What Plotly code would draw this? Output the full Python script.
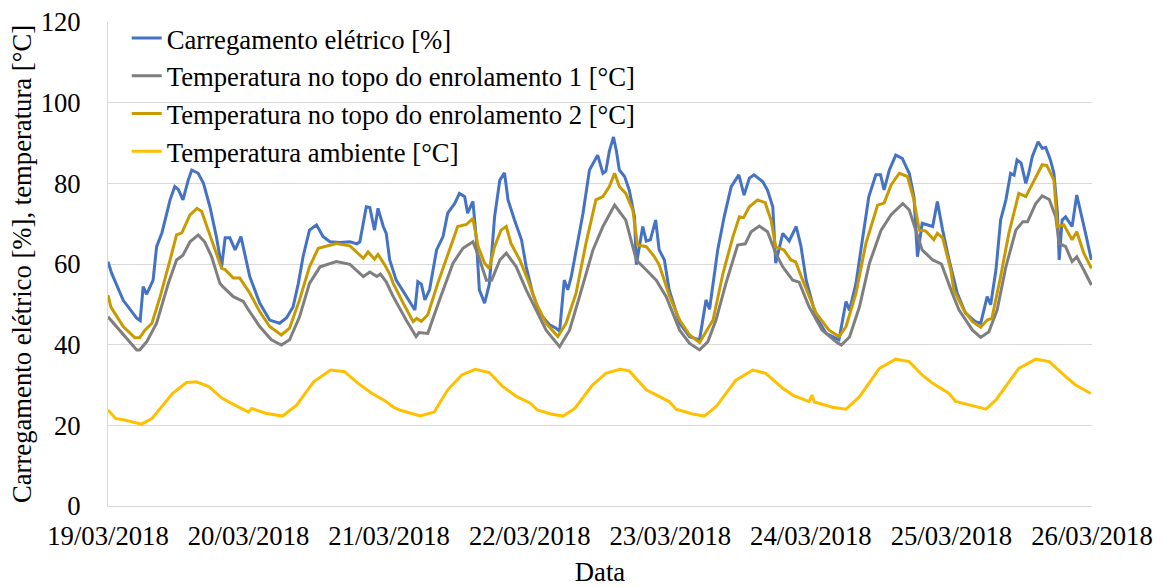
import pandas as pd
import plotly.graph_objects as go

START = pd.Timestamp("2018-03-19")

# Carregamento elétrico [%]  (hours since 19/03/2018 00:00, value)
load_h = [0.0, 0.6, 2.6, 4.9, 5.5, 6.0, 6.6, 7.7, 8.3, 9.2, 10.6, 11.4, 12.0, 12.8, 13.7, 14.3, 15.4, 16.3,
          17.4, 18.5, 19.4, 20.0, 20.8, 21.7, 22.7, 23.4, 24.2, 25.9, 27.6, 29.3, 30.5, 31.6, 32.5, 33.3,
          34.4, 35.6, 36.7, 37.9, 39.6, 41.3, 42.5, 43.0, 44.1, 44.7, 45.5, 46.1, 47.0, 47.5, 48.1, 49.2,
          50.9, 52.4, 52.9, 53.5, 54.1, 54.9, 56.1, 57.2, 58.0, 59.2, 60.0, 60.9, 61.4, 62.3, 62.9, 63.4,
          64.3, 65.1, 66.0, 66.9, 67.7, 68.3, 69.4, 70.6, 71.4, 72.5, 73.7, 75.4, 76.5, 77.1, 77.9, 78.5,
          79.1, 79.9, 81.1, 82.2, 82.8, 83.6, 84.5, 85.0, 85.6, 86.3, 86.8, 87.3, 88.2, 89.0, 89.9, 90.2,
          91.3, 91.9, 92.6, 93.5, 94.1, 95.0, 95.8, 97.6, 99.3, 101.0, 102.1, 102.7, 104.1, 105.2, 106.4,
          107.7, 108.6, 109.5, 110.3, 111.8, 112.6, 113.5, 114.0, 115.2, 116.3, 117.5, 118.3, 119.2, 120.9,
          122.6, 124.8, 126.0, 126.6, 127.7, 128.8, 129.9, 131.1, 131.9, 132.5, 133.4, 134.5, 135.6, 136.8,
          137.6, 138.2, 139.0, 140.8, 141.6, 142.5, 143.6, 145.0, 146.4, 148.1, 149.0, 150.1, 150.7, 151.6,
          152.4, 153.3, 154.1, 154.7, 155.2, 155.9, 156.7, 157.2, 157.8, 158.8, 159.5, 160.1, 160.9, 161.5,
          162.1, 162.4, 162.9, 163.5, 164.6, 165.4, 166.1, 166.9, 167.9]
load_v = [60.6, 57.8, 51.0, 46.6, 46.0, 54.4, 52.5, 56.0, 64.3, 67.7, 75.9, 79.2, 78.5, 75.9, 80.8, 83.3, 82.5, 80.0,
          74.2, 66.8, 59.3, 66.5, 66.5, 63.5, 66.8, 61.8, 56.9, 50.3, 46.1, 45.3, 46.7, 49.4, 55.2, 61.8,
          68.4, 69.7, 66.8, 65.5, 65.3, 65.5, 65.0, 65.5, 74.2, 74.0, 68.4, 73.8, 69.3, 67.6, 61.0, 56.0,
          51.9, 48.6, 55.6, 55.0, 51.1, 53.6, 63.5, 66.8, 72.6, 75.0, 77.5, 76.7, 72.6, 75.5, 66.0, 53.6,
          50.3, 55.0, 71.7, 80.8, 82.6, 75.9, 70.9, 66.0, 59.3, 52.7, 47.8, 44.9, 44.1, 43.3, 56.0, 53.6,
          56.9, 63.5, 72.6, 83.3, 85.0, 87.0, 82.5, 83.0, 88.0, 91.5, 88.0, 83.3, 81.7, 78.3, 71.7, 59.8,
          69.3, 65.7, 66.0, 70.9, 63.5, 61.0, 53.6, 45.3, 42.0, 41.2, 51.1, 48.8, 63.5, 71.7, 79.2,
          82.1, 77.1, 81.3, 82.1, 80.4, 78.3, 74.2, 60.2, 67.6, 65.7, 69.3, 64.5, 56.0, 46.9,
          42.8, 41.2, 50.7, 48.5, 55.2, 66.0, 76.7, 82.1, 82.1, 78.4, 83.3, 87.0, 86.2, 82.5,
          76.7, 61.8, 70.1, 69.3, 75.5, 68.4, 61.0, 52.7, 47.8, 45.7, 45.3, 51.9, 49.9, 58.5,
          70.9, 75.9, 82.5, 82.0, 85.8, 85.0, 80.0, 82.5, 86.6, 90.3, 88.7, 88.9, 85.8, 82.5,
          72.6, 61.0, 70.9, 71.7, 69.3, 77.1, 73.0, 67.6, 61.0]

# Temperatura no topo do enrolamento 1 [°C]
t1_h = [0.0, 2.6, 4.9, 5.4, 6.6, 8.3, 10.3, 11.7, 12.8, 14.0, 15.4, 16.5, 17.7, 19.1, 19.6, 21.4, 23.1, 24.0,
        25.9, 27.9, 29.6, 31.0, 32.7, 34.4, 36.2, 39.0, 41.3, 43.6, 44.7, 45.9, 46.5, 47.5, 48.7, 50.9,
        52.6, 53.1, 54.6, 56.6, 58.9, 60.6, 62.3, 63.2, 64.6, 65.5, 66.9, 68.0, 69.7, 71.4, 73.1, 74.8,
        77.1, 78.8, 80.5, 82.8, 84.5, 86.5, 88.4, 90.2, 91.9, 93.6, 95.3, 97.6, 99.3, 101.0, 102.4, 103.8,
        105.5, 107.5, 108.8, 109.8, 111.2, 112.6, 114.0, 115.2, 116.9, 118.0, 119.7, 121.9, 124.3, 125.2,
        126.6, 128.3, 130.0, 132.0, 133.7, 135.7, 136.8, 137.9, 139.0, 140.8, 142.3, 144.1, 145.3, 147.6,
        149.0, 150.4, 151.8, 153.3, 155.0, 156.2, 157.0, 158.4, 159.5, 160.7, 161.8, 162.4, 163.5, 164.6,
        165.4, 166.6, 167.9]
t1_v = [46.9, 42.4, 38.7, 38.7, 40.7, 45.3, 55.2, 61.0, 62.2, 65.5, 67.2, 65.5, 61.8, 55.2, 54.4, 51.9, 50.7, 48.6,
        44.5, 41.2, 39.9, 41.2, 46.9, 55.2, 59.3, 60.6, 59.9, 56.9, 58.0, 56.9, 57.5, 55.6, 51.9, 46.1,
        42.0, 43.0, 42.8, 51.1, 60.2, 63.9, 65.5, 62.2, 56.0, 56.0, 61.0, 62.7, 59.3, 53.6, 48.6, 43.6,
        39.5, 43.6, 51.9, 63.5, 69.3, 74.6, 70.9, 61.0, 58.5, 56.0, 51.9, 43.6, 40.3, 38.7, 40.7, 46.1,
        55.2, 64.7, 65.0, 68.0, 69.4, 68.0, 62.7, 59.3, 56.0, 55.5, 49.4, 43.6, 40.7, 39.9,
        41.9, 49.4, 60.2, 68.4, 72.2, 75.0, 73.4, 68.4, 63.5, 61.0, 60.0, 52.9, 48.6, 43.6,
        41.8, 43.2, 48.6, 59.3, 68.4, 70.5, 70.5, 75.0, 76.9, 76.0, 71.7, 65.1, 64.3, 60.6,
        61.8, 58.5, 54.8]

# Temperatura no topo do enrolamento 2 [°C]
t2_h = [0.0, 0.5, 2.6, 4.6, 5.4, 6.3, 7.5, 8.9, 10.6, 11.7, 12.6, 14.0, 15.2, 16.0, 17.1, 18.3, 19.4, 20.0, 21.4,
        22.5, 23.1, 24.2, 25.9, 27.6, 29.6, 31.0, 32.7, 34.4, 35.9, 39.0, 41.3, 43.6, 44.4, 45.5, 46.1, 47.2,
        48.1, 48.7, 50.4, 52.1, 52.7, 53.5, 54.6, 56.3, 58.3, 59.7, 61.2, 62.3, 63.2, 64.3, 65.1, 66.0,
        67.1, 68.0, 68.8, 70.3, 71.7, 73.1, 74.8, 76.8, 78.2, 79.9, 81.6, 83.3, 84.5, 85.6, 86.5, 87.3,
        88.4, 89.6, 90.4, 91.9, 93.3, 94.1, 95.8, 97.6, 99.3, 101.0, 102.1, 103.3, 105.0, 106.7, 107.8,
        108.5, 109.5, 110.9, 112.2, 113.2, 114.0, 115.4, 116.6, 117.4, 118.6, 120.9, 123.1, 124.8, 126.0,
        127.7, 129.4, 131.4, 132.5, 133.7, 135.1, 136.5, 137.6, 138.5, 139.6, 141.0, 141.6, 142.5, 143.9,
        144.4, 146.1, 147.6, 149.0, 150.1, 150.9, 152.4, 153.8, 155.5, 156.7, 158.4, 159.5, 160.3, 161.5,
        162.1, 163.2, 164.6, 165.4, 166.6, 167.9]
t2_v = [52.3, 49.3, 44.5, 41.7, 41.7, 43.6, 45.3, 51.9, 61.0, 67.2, 67.7, 72.2, 73.8, 73.0, 68.4, 63.5, 58.9, 58.6, 56.5,
        56.5, 55.3, 52.8, 48.2, 44.5, 42.4, 44.1, 51.1, 59.3, 63.9, 65.1, 64.5, 61.4, 63.0, 61.2, 62.4, 59.9,
        57.5, 55.2, 50.3, 45.7, 46.5, 45.8, 47.4, 55.2, 63.5, 69.3, 69.8, 71.3, 64.3, 60.2, 58.9, 64.3,
        68.4, 69.3, 65.1, 61.0, 56.0, 50.3, 45.3, 42.0, 45.3, 52.7, 65.1, 75.9, 76.7, 79.2, 82.5, 79.2,
        77.5, 73.4, 64.7, 64.3, 61.8, 59.8, 52.3, 46.1, 42.4, 40.5, 43.2, 46.1, 57.7, 66.8, 71.7,
        71.5, 74.2, 75.9, 75.2, 70.9, 64.3, 63.5, 61.0, 60.5, 56.0, 47.8, 43.6, 42.0, 44.5,
        52.7, 65.1, 74.6, 75.1, 79.6, 82.5, 81.7, 75.9, 68.4, 68.2, 66.0, 67.6, 66.5, 58.5,
        53.6, 48.6, 45.7, 44.3, 46.1, 46.5, 56.9, 67.6, 77.5, 76.7, 81.7, 84.6, 84.4, 80.8,
        69.3, 69.7, 66.0, 68.0, 62.7, 58.9]

# Temperatura ambiente [°C]
amb_h = [0.0, 1.3, 2.8, 5.7, 7.5, 11.0, 13.4, 15.1, 17.2, 19.5, 21.0, 23.7, 24.0, 24.5, 26.9, 29.8, 32.2, 35.1,
         38.0, 40.4, 42.7, 45.1, 47.4, 48.6, 49.8, 53.3, 55.7, 58.0, 60.4, 62.7, 65.1, 67.4, 69.8, 72.1, 73.3,
         75.6, 77.7, 79.7, 82.7, 85.0, 87.4, 89.0, 91.9, 95.8, 97.0, 99.8, 101.8, 103.8, 107.2, 110.1, 112.3,
         115.2, 116.9, 119.7, 120.2, 120.6, 123.7, 126.0, 128.3, 131.7, 134.5, 136.8, 139.0, 140.8, 143.6,
         144.7, 147.6, 149.9, 151.6, 155.5, 158.4, 160.7, 163.5, 165.2, 167.8]
amb_v = [23.8, 21.7, 21.3, 20.3, 21.7, 27.9, 30.6, 30.8, 29.6, 26.7, 25.5, 23.6, 23.3, 24.2, 23.0, 22.3, 25.0, 30.8,
         33.7, 33.3, 30.4, 27.9, 26.0, 24.6, 23.8, 22.3, 23.3, 28.8, 32.5, 33.9, 33.1, 29.6, 27.1, 25.5, 23.8,
         22.8, 22.3, 24.2, 30.0, 32.9, 33.9, 33.5, 28.8, 25.9, 24.0, 22.8, 22.3, 24.6, 31.2, 33.7, 32.9,
         29.2, 27.5, 25.9, 27.5, 25.8, 24.5, 24.0, 27.1, 34.1, 36.4, 35.8, 32.5, 30.4, 27.9,
         25.9, 24.8, 24.0, 26.3, 34.1, 36.4, 35.8, 32.1, 30.0, 27.9]

series_names = ["Carregamento elétrico [%]",
                "Temperatura no topo do enrolamento 1 [°C]",
                "Temperatura no topo do enrolamento 2 [°C]",
                "Temperatura ambiente [°C]"]
series_colors = ["#4472C4", "#7F7F7F", "#C99A00", "#FFC000"]
date_ticks = pd.date_range("2018-03-19", "2018-03-26", freq="D")


def to_dates(hours):
    return START + pd.to_timedelta(hours, unit="h")


FONT = "Liberation Serif"
FS = 26.7
TXT = dict(family=FONT, size=FS, color="black")

fig = go.Figure()
for h, v, name, col in zip([load_h, t1_h, t2_h, amb_h], [load_v, t1_v, t2_v, amb_v],
                           series_names, series_colors):
    fig.add_trace(go.Scatter(x=to_dates(h), y=v, name=name, mode="lines",
                             line=dict(color=col, width=3)))

fig.update_layout(
    width=1164, height=587,
    margin=dict(l=108, r=72, t=22, b=81),
    paper_bgcolor="white", plot_bgcolor="white",
    font=TXT,
    showlegend=True,
    legend=dict(x=0.019, y=1.016, xanchor="left", yanchor="top", bgcolor="rgba(0,0,0,0)",
                font=TXT, tracegroupgap=0, itemwidth=30),
    xaxis=dict(type="date", range=[date_ticks[0], date_ticks[-1]], automargin=False,
               tickvals=list(date_ticks), ticktext=[d.strftime("%d/%m/%Y") for d in date_ticks],
               tickfont=TXT,
               showgrid=False, showline=True, linecolor="#D9D9D9", linewidth=1,
               ticks="", ticklabelstandoff=6,
               title=dict(text="Data", font=TXT, standoff=22)),
    yaxis=dict(range=[0, 120], dtick=20, showgrid=True, gridcolor="#D9D9D9", gridwidth=1,
               automargin=False, zeroline=False, showline=True, linecolor="#D9D9D9", linewidth=1,
               tickfont=TXT,
               ticks="", ticklabelstandoff=21,
               title=dict(text="Carregamento elétrico [%], temperatura [°C]",
                          font=TXT, standoff=1)),
)

fig.write_html("out.html", post_script="document.body.style.margin='0px';",
               config={"displayModeBar": False})
